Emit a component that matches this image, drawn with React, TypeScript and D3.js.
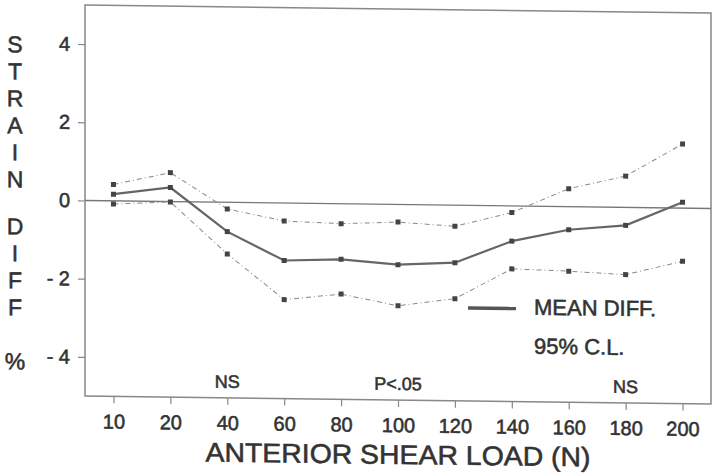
import * as d3 from "d3";
import { useEffect, useRef } from "react";

// anterior shear load (N), categorical
const loads = ["10", "20", "40", "60", "80", "100", "120", "140", "160", "180", "200"];
// strain diff %
const meanDiff = [0.17, 0.36, -0.75, -1.47, -1.42, -1.54, -1.47, -0.9, -0.59, -0.46, 0.15];
const upperCL = [0.42, 0.74, -0.17, -0.46, -0.51, -0.45, -0.54, -0.17, 0.46, 0.8, 1.64];
const lowerCL = [-0.08, -0.01, -1.32, -2.47, -2.31, -2.59, -2.39, -1.61, -1.65, -1.72, -1.36];
const yTicks = [-4, -2, 0, 2, 4];
const notes = [
  { at: "40", text: "NS" },
  { at: "100", text: "P<.05" },
  { at: "180", text: "NS" },
];
const yWords = ["STRAIN", "DIFF", "%"];

const W = 720;
const H = 474;
const left = 85;
const right = 711;
const top = 5;
const bottom = 396;
const font = "'Liberation Sans', Arial, sans-serif";

const App = () => {
  const xAxisRef = useRef<SVGGElement>(null);
  const yAxisRef = useRef<SVGGElement>(null);

  const x = d3.scalePoint<string>().domain(loads).range([left, right]).padding(0.5);
  const y = d3.scaleLinear().domain([-5, 5]).range([bottom, top]);

  useEffect(() => {
    const xa = d3.select(xAxisRef.current);
    xa.call(d3.axisBottom(x).tickSize(7).tickPadding(11) as any);
    xa.select(".domain").remove();
    xa.selectAll("line").attr("stroke", "#888").attr("stroke-width", 1.2);
    xa.selectAll("text")
      .attr("font-size", 20)
      .attr("font-family", font)
      .attr("fill", "#333");

    const ya = d3.select(yAxisRef.current);
    ya.call(
      d3
        .axisLeft(y)
        .tickValues(yTicks)
        .tickSize(7)
        .tickPadding(8)
        .tickFormat((d: any) => (d < 0 ? `- ${-d}` : `${d}`)) as any
    );
    ya.select(".domain").remove();
    ya.selectAll("line").attr("stroke", "#888").attr("stroke-width", 1.2);
    ya.selectAll("text")
      .attr("font-size", 20)
      .attr("font-family", font)
      .attr("fill", "#333");
  }, []);

  const pts = (vals: number[]) => vals.map((v, i) => [x(loads[i])!, y(v)] as [number, number]);
  const line = d3.line<[number, number]>();

  // vertical stacked y label
  const yLetters: { ch: string; cy: number }[] = [];
  let cy = 45;
  yWords.forEach((w, wi) => {
    w.split("").forEach((ch) => {
      yLetters.push({ ch, cy });
      cy += 27;
    });
    cy += wi === 0 ? 20 : 27;
  });

  return (
    <svg
      width={W}
      height={H}
      style={{ position: "absolute", left: 0, top: 0, background: "#fff" }}
    >
      <style>{`text { stroke: #333; stroke-width: 0.55px; }`}</style>
      {/* the scan is slightly skewed */}
      <g transform={`translate(${left},0) skewY(0.73) translate(${-left},0)`}>
        <rect
          x={left}
          y={top}
          width={right - left}
          height={bottom - top}
          fill="none"
          stroke="#888"
          strokeWidth={1.5}
        />
        <line x1={left} x2={right} y1={y(0)} y2={y(0)} stroke="#777" strokeWidth={1.3} />
        <g ref={xAxisRef} transform={`translate(0,${bottom})`} />
        <g ref={yAxisRef} transform={`translate(${left},0)`} />

        {[upperCL, lowerCL].map((s, k) => (
          <path
            key={k}
            d={line(pts(s)) || ""}
            fill="none"
            stroke="#888"
            strokeWidth={1}
            strokeDasharray="5 3 1 3"
          />
        ))}
        <path d={line(pts(meanDiff)) || ""} fill="none" stroke="#666" strokeWidth={2.2} />
        {[upperCL, meanDiff, lowerCL].map((s, k) =>
          pts(s).map(([px, py], i) => (
            <rect key={`${k}-${i}`} x={px - 2.5} y={py - 2.5} width={5} height={5} fill="#444" />
          ))
        )}

        {notes.map((n) => (
          <text
            key={n.text + n.at}
            x={x(n.at)}
            y={386}
            textAnchor="middle"
            fontSize={18}
            fontFamily={font}
            fill="#333"
          >
            {n.text}
          </text>
        ))}

        <line x1={468} x2={516} y1={303} y2={303} stroke="#555" strokeWidth={3.5} />
        <text x={534} y={309} fontSize={22} fontFamily={font} fill="#333">
          MEAN DIFF.
        </text>
        <text x={534} y={348} fontSize={22} fontFamily={font} fill="#333">
          95% C.L.
        </text>

        <text
          x={398}
          y={460}
          textAnchor="middle"
          fontSize={27}
          fontFamily={font}
          fill="#333"
          textLength={385}
          lengthAdjust="spacingAndGlyphs"
        >
          ANTERIOR SHEAR LOAD (N)
        </text>

        {yLetters.map((l, i) => (
          <text
            key={i}
            x={15}
            y={l.cy}
            dy="0.36em"
            textAnchor="middle"
            fontSize={23}
            fontFamily={font}
            fill="#333"
          >
            {l.ch}
          </text>
        ))}
      </g>
    </svg>
  );
};

export default App;
